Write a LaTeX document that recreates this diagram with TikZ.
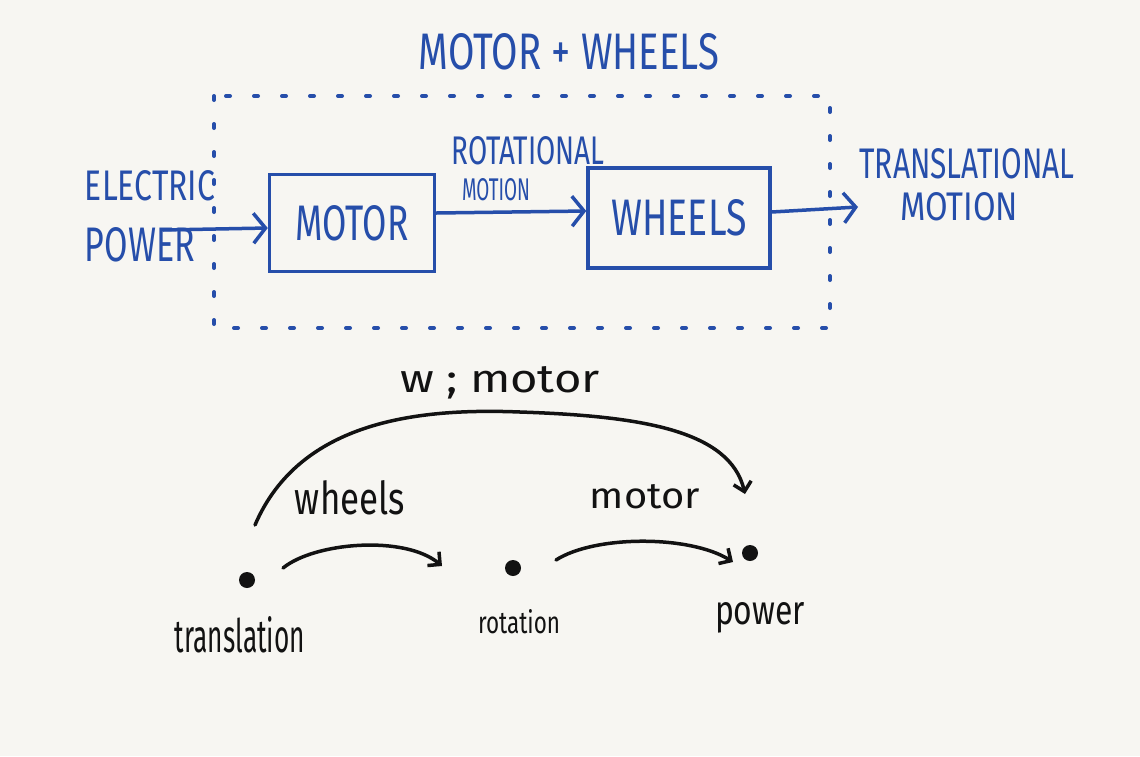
\documentclass[tikz,border=0pt]{standalone}
\usepackage{fontspec}
\setmainfont{Fira Sans}
\usepackage{graphicx}
\usetikzlibrary{arrows.meta}
\definecolor{paper}{RGB}{247,246,242}
\definecolor{ink}{RGB}{38,78,170}
\definecolor{pen}{RGB}{18,18,18}
\newcommand\hw[3]{\resizebox{#1pt}{#2pt}{#3}}
\begin{document}
\begin{tikzpicture}[x=1pt,y=-1pt,
  lbl/.style={inner sep=0pt, text=ink},
  blbl/.style={inner sep=0pt, text=pen},
  blk/.style={draw=ink, line width=3.5pt, inner sep=0pt, text=ink},
  iarrow/.style={draw=ink, line width=3.5pt, line cap=round, -{Straight Barb[length=12pt,width=30pt,line width=3.5pt]}},
  parrow/.style={draw=pen, line width=3.5pt, line cap=round, -{Straight Barb[length=9pt,width=18pt,line width=3.5pt]}},
  dotbox/.style={draw=ink, line width=4pt, line cap=round, dash pattern=on 4pt off 24pt},
  pt/.style={circle, fill=pen, inner sep=0pt, minimum size=16pt}]
\fill[paper] (0,0) rectangle (1140,756);
\useasboundingbox (0,0) rectangle (1140,756);

% blue block diagram
\node[lbl] (title) at (569,52) {\hw{300}{36}{MOTOR + WHEELS}};
\draw[dotbox] (214,96) rectangle (830,328);

\node[blk, minimum width=165pt, minimum height=97pt] (motor) at (352,223) {\hw{113}{35}{MOTOR}};
\node[blk, minimum width=182pt, minimum height=100pt] (wheels) at (679,218) {\hw{135}{36}{WHEELS}};

\node[lbl] (elec) at (150,186) {\hw{130}{30}{ELECTRIC}};
\node[lbl] (power) at (140,245) {\hw{110}{34}{POWER}};
\node[lbl] (rot) at (528,151) {\hw{153}{28}{ROTATIONAL}};
\node[lbl] (rotm) at (496,190) {\hw{68}{22}{MOTION}};
\node[lbl] (trans) at (967,164) {\hw{215}{30}{TRANSLATIONAL}};
\node[lbl] (transm) at (959,207) {\hw{118}{28}{MOTION}};

\coordinate (ein) at (163,230);
\coordinate (tout) at (858,207);
\draw[iarrow] (ein) -- ([yshift=-5pt]motor.west);
\draw[iarrow] ([yshift=10pt]motor.east) -- ([yshift=7pt]wheels.west);
\draw[iarrow] ([yshift=6pt]wheels.east) -- (tout);

% black sketch
\node[pt] (tr) at (247,580) {};
\node[pt] (ro) at (513,568) {};
\node[pt] (pw) at (750,553) {};

\node[blbl] (trl) at (240,635) {\hw{130}{36}{translation}};
\node[blbl] (rol) at (519,622) {\hw{82}{24}{rotation}};
\node[blbl] (pwl) at (760,618) {\hw{90}{22}{power}};

\node[blbl] (wml) at (500,383) {\hw{200}{26}{w ; motor}};
\node[blbl] (whl) at (350,498) {\hw{110}{34}{wheels}};
\node[blbl] (mol) at (645,497) {\hw{110}{24}{motor}};

\coordinate (a1s) at (283,568);
\coordinate (a1e) at (442,566);
\coordinate (a2s) at (556,560);
\coordinate (a2e) at (733,562);
\coordinate (a3s) at (255,525);
\coordinate (a3e) at (745,494);
\draw[parrow] (a1s) .. controls (315,542) and (405,535) .. (a1e);
\draw[parrow] (a2s) .. controls (595,535) and (690,535) .. (a2e);
\draw[parrow] (a3s) .. controls (300,420) and (420,408) .. (520,412)
  .. controls (640,416) and (730,430) .. (a3e);
\end{tikzpicture}
\end{document}
